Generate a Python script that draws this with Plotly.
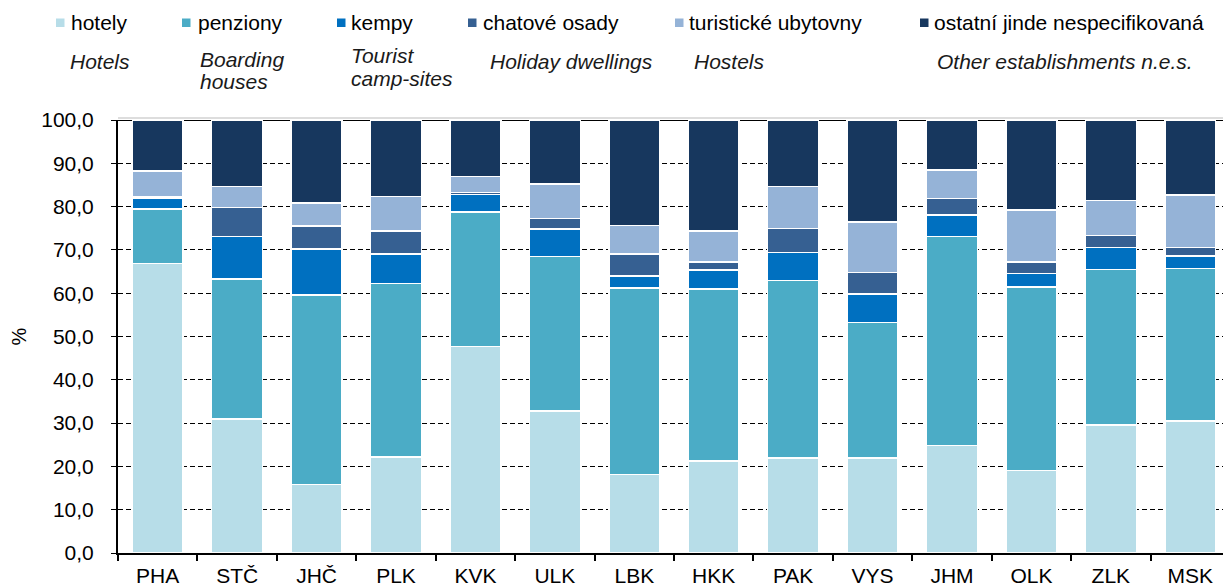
import plotly.graph_objects as go

# regions (NUTS 3 codes)
kraje = ['PHA', 'STČ', 'JHČ', 'PLK', 'KVK', 'ULK', 'LBK', 'HKK', 'PAK', 'VYS', 'JHM', 'OLK', 'ZLK', 'MSK']

# shares of establishments by type, %
hotely = [66.9, 31.0, 15.8, 22.2, 47.7, 32.8, 18.1, 21.2, 21.9, 21.9, 24.8, 19.1, 29.6, 30.5]
penziony = [12.6, 32.3, 43.8, 40.0, 31.1, 35.7, 43.1, 39.8, 41.0, 31.3, 48.3, 42.3, 35.9, 35.2]
kempy = [2.4, 9.8, 10.6, 6.8, 4.0, 6.3, 2.8, 4.4, 6.5, 6.6, 5.0, 3.1, 5.0, 2.9]
chatove_osady = [0.3, 6.7, 5.3, 5.4, 0.4, 2.5, 5.1, 1.8, 5.5, 5.0, 3.8, 2.7, 2.8, 2.0]
turisticke_ubytovny = [6.0, 4.8, 5.3, 7.9, 3.8, 7.9, 6.5, 7.2, 9.7, 11.7, 6.5, 12.0, 8.1, 12.1]
ostatni = [11.8, 15.4, 19.2, 17.7, 12.9, 14.8, 24.4, 25.6, 15.4, 23.5, 11.6, 20.8, 18.6, 17.3]

series_cz = ['hotely', 'penziony', 'kempy', 'chatové osady', 'turistické ubytovny',
             'ostatní jinde nespecifikovaná']
series_en = [['Hotels'], ['Boarding', 'houses'], ['Tourist', 'camp-sites'], ['Holiday dwellings'],
             ['Hostels'], ['Other establishments n.e.s.']]
values = [hotely, penziony, kempy, chatove_osady, turisticke_ubytovny, ostatni]
colors = ['#B7DDE8', '#4BACC6', '#0070C0', '#366092', '#95B3D7', '#17375E']

# page body has an 8px margin, so the figure is a bit smaller than the window
OFF = 8
W, H = 1231 - OFF, 587 - OFF
ml, mr, mt, mb = 118 - OFF, 1, 120 - OFF, 34
pw, ph = W - ml - mr, H - mt - mb
font = 'Liberation Sans, Arial, sans-serif'


def px_x(x):
    # window pixel -> paper fraction
    return (x - OFF - ml) / pw


def px_y(y):
    return (H - mb - (y - OFF)) / ph


fig = go.Figure()
for name, vals, col in zip(series_cz, values, colors):
    fig.add_trace(go.Bar(x=kraje, y=vals, name=name,
                         marker=dict(color=col, line=dict(color='white', width=1.5))))

# hand-placed legend (Czech names with squares, English names below)
sq_x = [56, 182, 337, 468, 675, 920]
txt_x = [70, 197, 350, 482, 688, 933]
en_x = [69, 199, 350, 489, 693, 936]
en_y = [[62], [60, 82], [55, 78], [62], [62], [62]]
shapes = []
annotations = []
for i in range(6):
    shapes.append(dict(type='rect', xref='paper', yref='paper',
                       x0=px_x(sq_x[i]), x1=px_x(sq_x[i] + 8.5),
                       y0=px_y(27), y1=px_y(18.5),
                       fillcolor=colors[i], line=dict(width=0)))
    annotations.append(dict(text=series_cz[i], xref='paper', yref='paper',
                            x=px_x(txt_x[i] - 1), y=px_y(22.5), xanchor='left', yanchor='middle',
                            showarrow=False, font=dict(size=21, color='black', family=font)))
    for line, ly in zip(series_en[i], en_y[i]):
        annotations.append(dict(text='<i>' + line + '</i>', xref='paper', yref='paper',
                                x=px_x(en_x[i] - 1), y=px_y(ly), xanchor='left', yanchor='middle',
                                showarrow=False, font=dict(size=21, color='#1a1a1a', family=font)))

# plot area top edge
shapes.append(dict(type='line', xref='paper', yref='y', x0=0, x1=1, y0=100, y1=100,
                   line=dict(color='black', width=2), layer='below'))
shapes.append(dict(type='line', xref='paper', yref='paper', x0=0, x1=1, y0=px_y(118), y1=px_y(118),
                   line=dict(color='#BBBBBB', width=1), layer='above'))

fig.update_layout(
    barmode='stack',
    bargap=0.36,
    width=W, height=H,
    margin=dict(l=ml, r=mr, t=mt, b=mb, pad=0, autoexpand=False),
    plot_bgcolor='white', paper_bgcolor='white',
    showlegend=False,
    separators=', ',
    font=dict(family=font, size=21, color='black'),
    shapes=shapes,
    annotations=annotations,
)
fig.update_xaxes(showline=True, linecolor='black', linewidth=2, automargin=False,
                 ticks='outside', tickson='boundaries', ticklen=6, tickwidth=2, tickcolor='black',
                 ticklabelstandoff=3, tickfont=dict(size=21), showgrid=False)
fig.update_yaxes(range=[0, 100], dtick=10, tickformat='.1f', automargin=False,
                 showline=True, linecolor='black', linewidth=2,
                 ticks='outside', ticklen=5, tickwidth=1, tickcolor='black', ticklabelstandoff=13,
                 tickfont=dict(size=21),
                 showgrid=True, gridcolor='black', gridwidth=1, griddash='5px,3px',
                 zeroline=False,
                 title=dict(text='%', standoff=20, font=dict(size=20)))

fig.write_html("out.html")
